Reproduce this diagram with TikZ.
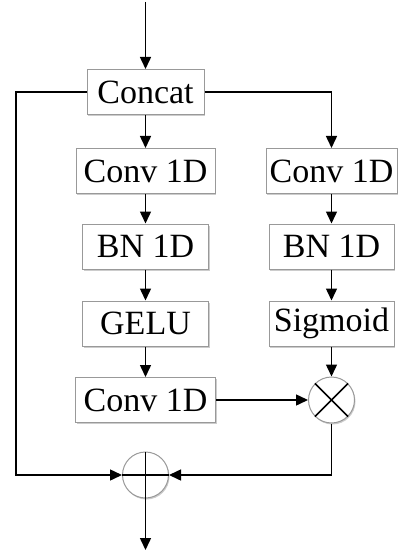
\documentclass[tikz,border=0pt]{standalone}
\usepackage{fontspec}
\setmainfont{Liberation Serif}
\usetikzlibrary{arrows.meta,shadows}
\begin{document}
\begin{tikzpicture}[x=1pt,y=-1pt,
  box/.style={draw=black!40, line width=1pt, fill=white, minimum height=45pt, inner sep=0pt,
    font=\fontsize{34}{36}\selectfont,
    drop shadow={shadow xshift=1pt,shadow yshift=-1.5pt,opacity=0.2,fill=black}},
  op/.style={circle, draw=black!40, line width=1pt, fill=white, minimum size=46pt, inner sep=0pt,
    drop shadow={shadow xshift=1pt,shadow yshift=-1.5pt,opacity=0.2,fill=black}},
  conn/.style={line width=1.5pt, -{Triangle[length=12pt,width=11pt]}},
  ln/.style={line width=1.5pt}]
\useasboundingbox (0,0) rectangle (398,553);
\node[box, minimum width=117pt] (concat) at (145.5,92) {Concat};
\node[box, minimum width=139pt] (c1) at (145.5,171) {Conv 1D};
\node[box, minimum width=126pt] (bn1) at (145.5,246.5) {BN 1D};
\node[box, minimum width=126pt] (gelu) at (145.5,323.5) {GELU};
\node[box, minimum width=140pt] (c3) at (145.5,400) {Conv 1D};
\node[box, minimum width=131pt] (c2) at (331.5,171) {Conv 1D};
\node[box, minimum width=125pt] (bn2) at (331.5,246.5) {BN 1D};
\node[box, minimum width=125pt] (sig) at (331.5,323.5) {Sigmoid};
\node[op] (mul) at (331.5,400) {};
\node[op] (add) at (145.5,475) {};
\coordinate (in) at (145.5,2);
\coordinate (out) at (145.5,550);
\coordinate (lb) at (16,475);
\draw[conn] (in) -- (concat.north);
\draw[conn] (concat.south) -- (c1.north);
\draw[conn] (c1.south) -- (bn1.north);
\draw[conn] (bn1.south) -- (gelu.north);
\draw[conn] (gelu.south) -- (c3.north);
\draw[conn] (concat.east) -| (c2.north);
\draw[conn] (c2.south) -- (bn2.north);
\draw[conn] (bn2.south) -- (sig.north);
\draw[conn] (sig.south) -- (mul.north);
\draw[conn] (c3.east) -- (mul.west);
\draw[ln] (mul.north west) -- (mul.south east);
\draw[ln] (mul.north east) -- (mul.south west);
\draw[conn] (concat.west) -| (lb) -- (add.west);
\draw[conn] (mul.south) |- (add.east);
\draw[ln] (add.west) -- (add.east);
\draw[conn] (add.north) -- (out);
\end{tikzpicture}
\end{document}
